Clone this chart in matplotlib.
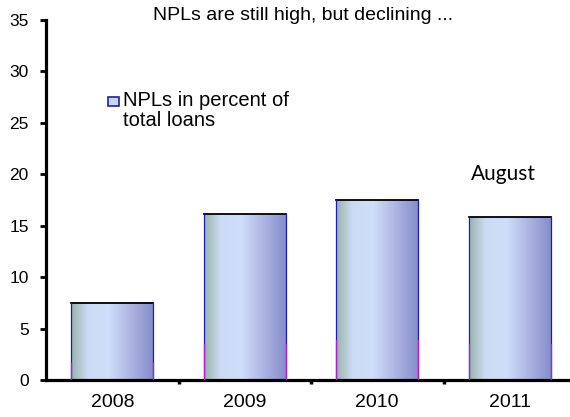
import numpy as np
import matplotlib.pyplot as plt
from matplotlib.colors import LinearSegmentedColormap
from matplotlib.patches import Rectangle

years = ["2008", "2009", "2010", "2011"]
npl = [7.5, 16.1, 17.5, 15.8]
title = "NPLs are still high, but declining ..."
legend_label = "NPLs in percent of\ntotal loans"
note = "August"

plt.rcParams['font.family'] = ['Liberation Sans', 'DejaVu Sans']

fig = plt.figure(figsize=(5.7, 4.17), dpi=100)
ax = fig.add_axes([46/570, 37/417, 530/570, 360/417])

cmap = LinearSegmentedColormap.from_list("barfill", [
    (0.00, (0.60, 0.70, 0.66)),
    (0.20, (0.80, 0.86, 0.96)),
    (0.45, (0.81, 0.87, 0.98)),
    (0.62, (0.73, 0.77, 0.92)),
    (1.00, (0.52, 0.55, 0.79)),
])
grad = np.linspace(0, 1, 256).reshape(1, -1)

x = np.arange(len(years))
w = 0.62
bars = ax.bar(x, npl, width=w, facecolor="none", edgecolor="none", zorder=3)
for b in bars:
    x0, h = b.get_x(), b.get_height()
    ax.imshow(grad, cmap=cmap, extent=[x0, x0 + w, 0, h], aspect="auto", zorder=2)
    ax.plot([x0, x0 + w], [h, h], color="black", lw=1.3, zorder=4, solid_capstyle="projecting")
    for xe in (x0, x0 + w):
        ax.plot([xe, xe], [0, h], color="#1a1acc", lw=0.9, zorder=4)
        ax.plot([xe, xe], [0, h * 0.22], color="#b020d0", lw=0.9, zorder=4)

ax.set_xlim(-0.5, 3.5)
ax.set_ylim(0, 35)
ax.set_yticks(range(0, 36, 5))
ax.set_xticks(x)
ax.set_xticklabels(years)
ax.set_xticks([0.5, 1.5, 2.5], minor=True)
ax.tick_params(axis="x", which="major", length=0, labelsize=14, pad=10)
ax.tick_params(axis="x", which="minor", length=3, width=2.5, direction="out")
ax.tick_params(axis="y", length=4.5, width=2, direction="out", labelsize=12.5, pad=8)

for s in ["top", "right"]:
    ax.spines[s].set_visible(False)
for s in ["left", "bottom"]:
    ax.spines[s].set_linewidth(2.3)

fig.text(303/570, 1 - 15/417, title, ha="center", va="center", fontsize=14)

ax.add_patch(Rectangle((108/570, 1 - 106/417), 11/570, 9/417, transform=fig.transFigure,
                       facecolor="#c8d4f4", edgecolor="#2020a0", lw=1.2, clip_on=False))
fig.text(123/570, 1 - 91/417, legend_label, ha="left", va="top", fontsize=14.5,
         linespacing=1.1, multialignment="left")

ax.text(2.95, 19.4, note, ha="center", va="baseline", fontsize=15,
        family=["Lato", "DejaVu Sans"])

plt.savefig("out.png", dpi=100)
